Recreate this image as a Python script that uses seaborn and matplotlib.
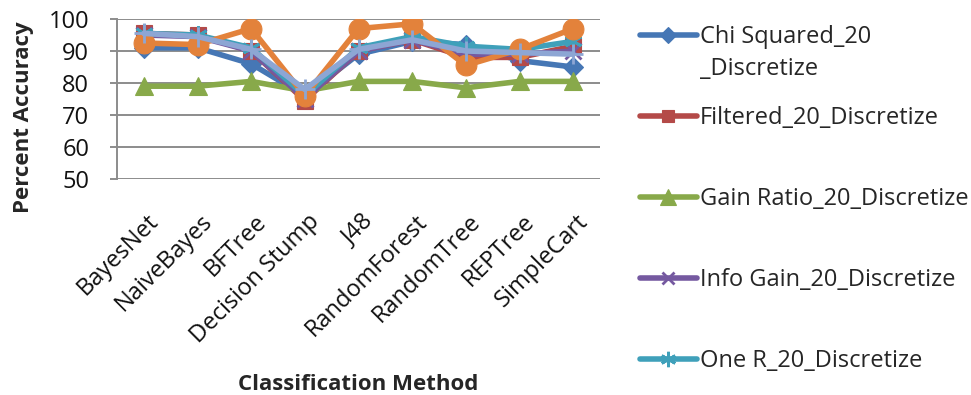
import matplotlib
matplotlib.use("Agg")
import matplotlib.pyplot as plt
import seaborn as sns
import pandas as pd
from matplotlib.lines import Line2D
from matplotlib.transforms import ScaledTranslation

methods = ["BayesNet", "NaiveBayes", "BFTree", "Decision Stump", "J48",
           "RandomForest", "RandomTree", "REPTree", "SimpleCart"]

chi_squared = [91, 91, 86, 76, 89, 93, 92, 87, 85]
filtered = [95.5, 95, 90, 74.5, 90, 93.5, 88, 88, 91.5]
gain_ratio = [79, 79, 80.5, 77.5, 80.5, 80.5, 78.5, 80.5, 80.5]
info_gain = [95, 94.5, 90, 75, 90, 93.5, 89, 89, 90]
one_r = [95.5, 95, 91, 76, 91, 94.5, 91.5, 90.5, 93]
relieff = [92.5, 92, 97, 76, 97, 98.5, 85.5, 90.5, 97]
symmetrical = [95.5, 94.5, 90.5, 78, 90.5, 93.5, 90, 89.5, 89]

series_names = ["Chi Squared_20\n_Discretize", "Filtered_20_Discretize",
                "Gain Ratio_20_Discretize", "Info Gain_20_Discretize",
                "One R_20_Discretize", "ReliefF_20_Discretize",
                "Symmetrical Uncert_20_Discretize"]
series_values = [chi_squared, filtered, gain_ratio, info_gain, one_r,
                 relieff, symmetrical]
colors = ["#4677B5", "#B44A48", "#88A94A", "#7559A0", "#3FA0BA",
          "#E3823B", "#8DA6D4"]
markers = ["D", "s", "^", "x", (6, 2, 0), "o", "+"]
msizes = [10, 11, 13, 11, 13, 15, 14]
in_legend = [True, True, True, True, True, False, False]

sns.set_theme(style="white")
plt.rcParams["font.family"] = ["Open Sans", "DejaVu Sans"]
FS = 17
FS_LAB = 16

fig = plt.figure(figsize=(9.71, 3.95), dpi=100)
ax = fig.add_axes([117 / 971, 1 - 179 / 395, (600 - 117) / 971, (179 - 19) / 395])

handles = []
for name, vals, c, m, ms, leg in zip(series_names, series_values, colors,
                                      markers, msizes, in_legend):
    df = pd.DataFrame({"Method": methods, "Accuracy": vals})
    mew = 2 if (m in ("x", "+") or isinstance(m, tuple)) else 0.8
    sns.lineplot(data=df, x="Method", y="Accuracy", ax=ax, color=c,
                 linewidth=4, marker=m, markersize=ms, markeredgewidth=mew,
                 markeredgecolor=c, markerfacecolor=c, sort=False)
    if leg:
        handles.append(Line2D([], [], color=c, lw=4, marker=m,
                              markersize=ms * 0.85, markeredgecolor=c,
                              markerfacecolor=c, markeredgewidth=mew,
                              label=name))

ax.set_ylim(50, 100)
ax.set_yticks([50, 60, 70, 80, 90, 100])
ax.set_xlim(-0.5, len(methods) - 0.5)
ax.grid(axis="y", color="#8c8c8c", linewidth=1.4)
ax.grid(axis="x", visible=False)
for s in ["top", "right", "bottom"]:
    ax.spines[s].set_visible(False)
ax.spines["left"].set_color("#8c8c8c")
ax.spines["left"].set_linewidth(1.4)
ax.tick_params(axis="y", which="major", left=True, length=5, width=1.4,
               color="#8c8c8c", labelsize=FS, pad=15, labelcolor="#111111")
ax.tick_params(axis="x", bottom=False, labelsize=FS, pad=16, labelcolor="#111111")
ax.set_xticks(range(len(methods)))
ax.set_xticklabels(methods, rotation=45, ha="right", rotation_mode="anchor")
offset = ScaledTranslation(3 / 100, 0, fig.dpi_scale_trans)
for lab in ax.get_xticklabels():
    lab.set_transform(lab.get_transform() + offset)

ax.set_ylabel("Percent Accuracy", fontsize=FS_LAB, fontweight="bold")
ax.yaxis.set_label_coords((34 - 117) / 483, (179 - 117) / 160)
ax.set_xlabel("Classification Method", fontsize=FS_LAB, fontweight="bold")
ax.xaxis.set_label_coords((358 - 117) / 483, -(374 - 179) / 160)

common = dict(frameon=False, fontsize=FS, handlelength=2.4,
              handletextpad=0.12, borderpad=0, borderaxespad=0,
              loc="upper left")
leg1 = fig.legend(handles=handles[:1], bbox_to_anchor=(640 / 971, 1 - 25 / 395),
                  handleheight=1.25, **common)
for t in leg1.get_texts():
    t.set_linespacing(1.45)
for col in leg1._legend_handle_box.get_children():
    for hp in col.get_children():
        hp.align = "top"
leg2 = fig.legend(handles=handles[1:], bbox_to_anchor=(640 / 971, 1 - 106 / 395),
                  labelspacing=2.42, **common)

fig.savefig("out.png", dpi=100)
